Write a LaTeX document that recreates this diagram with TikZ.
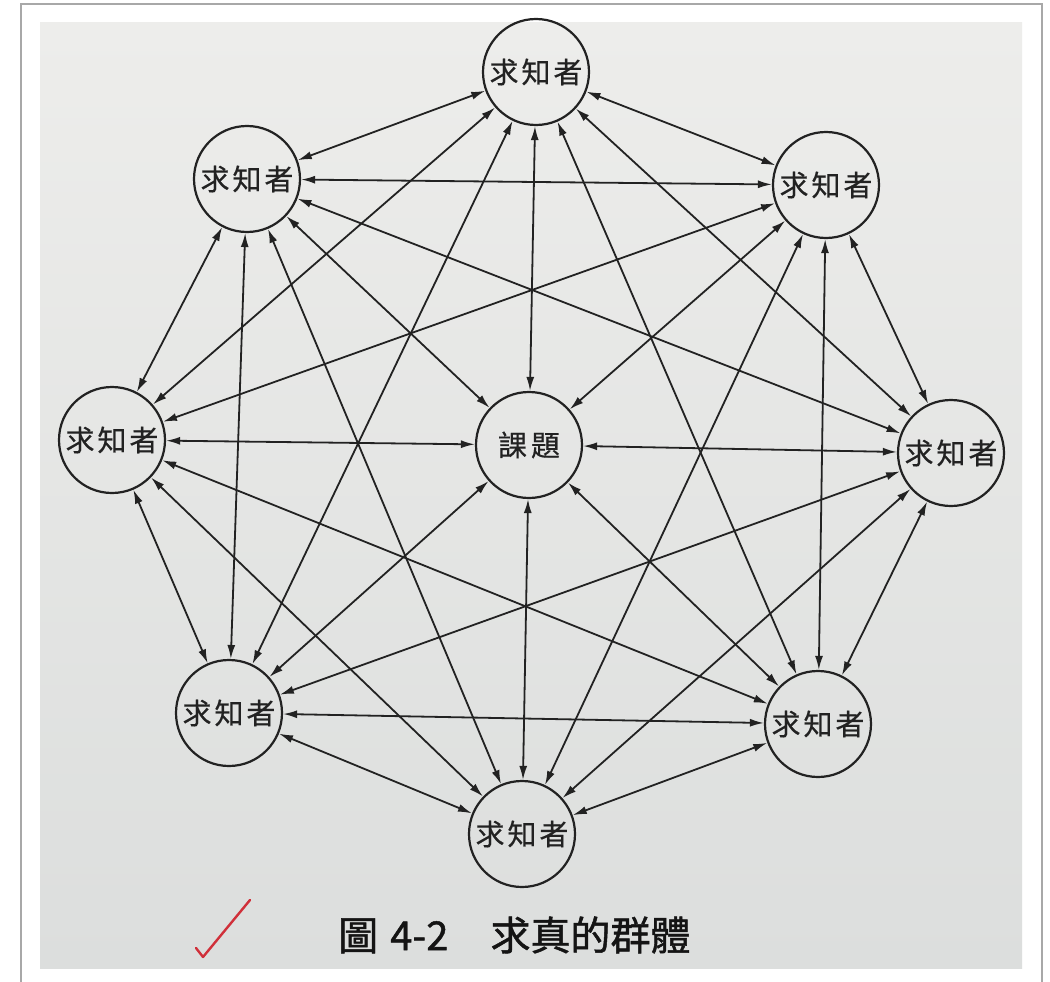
\documentclass[tikz,border=0pt]{standalone}
\usepackage{fontspec}
\newfontfamily\cjk[FakeBold=0.5]{Noto Sans CJK TC}
\newfontfamily\cjkcap[FakeBold=1.2]{Noto Sans CJK TC}
\usetikzlibrary{arrows.meta}
\definecolor{ink}{HTML}{222222}
\definecolor{pagetop}{HTML}{EDEDEB}
\definecolor{pagebot}{HTML}{DCDEDD}
\definecolor{frameline}{HTML}{A8A8A8}
\definecolor{checkred}{HTML}{D0303A}
\begin{document}
\begin{tikzpicture}[x=1pt,y=-1pt,
  person/.style={circle,draw=ink,line width=2.2pt,minimum size=106pt,inner sep=0pt,
    font=\cjk\fontsize{29}{31}\selectfont,text=ink},
  link/.style={draw=ink,line width=1.8pt,
    {Latex[length=14pt,width=8pt]}-{Latex[length=14pt,width=8pt]}},
  captionstyle/.style={font=\cjkcap\fontsize{40}{42}\selectfont,text=black!92,inner sep=0pt,anchor=west}]
\useasboundingbox (0,0) rectangle (1050,982);
\fill[white] (0,0) rectangle (1050,982);
\draw[frameline,line width=1.2pt] (21,982) -- (21,4) -- (1042,4) -- (1042,982);
\shade[top color=pagetop,bottom color=pagebot] (40,23) rectangle (1022,968);
% nodes
\node[person] (T)  at (536,72)  {求\hspace{3pt}知\hspace{3pt}者};
\node[person] (UL) at (247,179) {求\hspace{3pt}知\hspace{3pt}者};
\node[person] (UR) at (826,185) {求\hspace{3pt}知\hspace{3pt}者};
\node[person] (L)  at (112,440) {求\hspace{3pt}知\hspace{3pt}者};
\node[person] (C)  at (529,445) {課\hspace{4pt}題};
\node[person] (R)  at (951,453) {求\hspace{3pt}知\hspace{3pt}者};
\node[person] (LL) at (229,713) {求\hspace{3pt}知\hspace{3pt}者};
\node[person] (LR) at (818,724) {求\hspace{3pt}知\hspace{3pt}者};
\node[person] (B)  at (522,834) {求\hspace{3pt}知\hspace{3pt}者};
% connectors
\foreach \a/\b in {T/UL,T/UR,T/L,T/R,T/LL,T/LR,
                   UL/UR,UL/L,UL/R,UL/LL,UL/B,
                   UR/L,UR/R,UR/LR,UR/B,
                   L/LL,L/LR,L/B,
                   R/LL,R/LR,R/B,
                   LL/LR,LL/B,
                   LR/B,
                   C/T,C/UL,C/UR,C/L,C/R,C/LL,C/LR,C/B}
  \draw[link] (\a) -- (\b);
% caption
\node[captionstyle] (cap) at (338,935) {圖\hspace{12pt}4-2\hspace{42pt}求真的群體};
% check mark
\draw[checkred,line width=2.4pt,line cap=round,line join=round] (196,948) -- (203,957) -- (250,900);
\end{tikzpicture}
\end{document}
